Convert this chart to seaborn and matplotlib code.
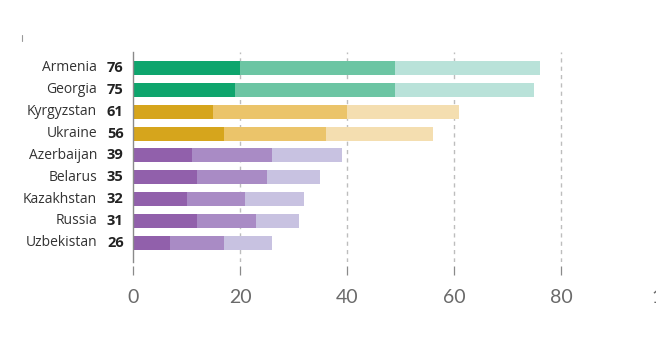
import matplotlib
matplotlib.use("Agg")
import matplotlib.pyplot as plt
from matplotlib.lines import Line2D
import seaborn as sns
import pandas as pd

countries = ["Armenia", "Georgia", "Kyrgyzstan", "Ukraine", "Azerbaijan",
             "Belarus", "Kazakhstan", "Russia", "Uzbekistan"]
totals = [76, 75, 61, 56, 39, 35, 32, 31, 26]
seg_dark = [20, 19, 15, 17, 11, 12, 10, 12, 7]
seg_mid_end = [49, 49, 40, 36, 26, 25, 21, 23, 17]
groups = ["green", "green", "yellow", "yellow", "purple", "purple", "purple", "purple", "purple"]
x_ticks = [0, 20, 40, 60, 80, 100]

shades = {
    "green": ("#0ea56d", "#6cc5a3", "#b9e2d9"),
    "yellow": ("#d6a51c", "#ebc46a", "#f4deb0"),
    "purple": ("#9160ab", "#a98bc5", "#c8c2e1"),
}

df = pd.DataFrame({"country": countries, "total": totals,
                   "dark": seg_dark, "mid": seg_mid_end, "group": groups})

sns.set_style("white")
fig = plt.figure(figsize=(6.56, 3.49), dpi=100)
ax = fig.add_axes([133 / 656, 1 - 262 / 349, 535 / 656, (262 - 52) / 349])

for col, idx in (("total", 2), ("mid", 1), ("dark", 0)):
    pal = {c: shades[g][idx] for c, g in zip(countries, groups)}
    sns.barplot(data=df, x=col, y="country", hue="country", palette=pal,
                legend=False, width=0.64, orient="h", ax=ax,
                saturation=1, linewidth=0)

ax.set_xlim(0, 100)
ax.set_ylim(8.88, -0.73)
ax.set_xlabel("")
ax.set_ylabel("")

for t in x_ticks[1:]:
    ax.axvline(t, color="#bdbdbd", lw=1, ls=(0, (3, 3)), zorder=0)

for s in ("top", "right"):
    ax.spines[s].set_visible(False)
ax.spines["left"].set_color("#8a8a8a")
ax.spines["left"].set_linewidth(1)
ax.spines["bottom"].set_visible(False)
ax.spines["bottom"].set_position(("outward", 3))

ax.set_xticks(x_ticks)
ax.set_xticklabels([str(t) for t in x_ticks], fontfamily="Lato",
                   fontsize=14, color="#6a6a6a")
ax.tick_params(axis="x", direction="out", length=6.5, width=0.9,
               color="#8a8a8a", pad=10, bottom=True)
ax.set_yticks([])

for i, (c, v) in enumerate(zip(countries, totals)):
    ax.text(-0.0673, i, c, transform=ax.get_yaxis_transform(),
            ha="right", va="center", fontsize=10, color="#333333",
            fontfamily="Open Sans")
    ax.text(-0.0486, i, str(v), transform=ax.get_yaxis_transform(),
            ha="left", va="center", fontsize=10.5, color="#222222",
            fontweight="bold", fontfamily="Open Sans")

# small stray mark at top-left of the reference
fig.add_artist(Line2D([22 / 656, 22 / 656], [1 - 35 / 349, 1 - 41 / 349],
                      transform=fig.transFigure, color="#999999", lw=0.8))

fig.savefig("out.png", dpi=100)
